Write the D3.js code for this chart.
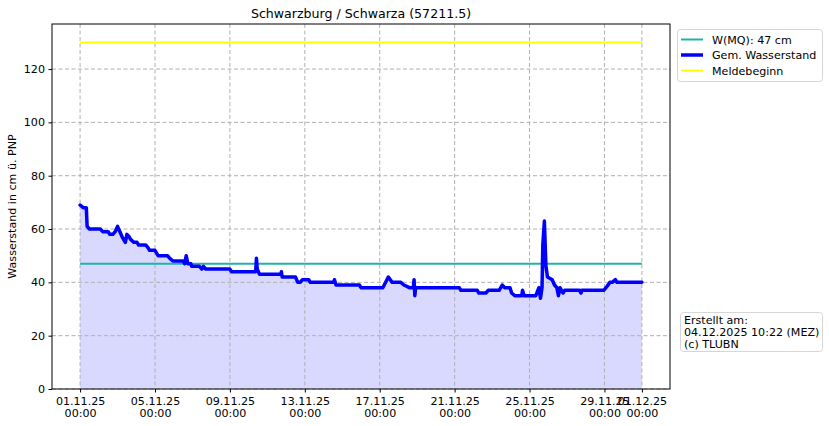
<!DOCTYPE html>
<html>
<head>
<meta charset="utf-8">
<script src="https://cdn.jsdelivr.net/npm/d3@7"></script>
<style>
    body { margin: 0; background: #fff; }
    text { font-family: 'DejaVu Sans', sans-serif; }
</style>
</head>
<body>
<div id="chart"></div>
<script>
//Messwerte: Stunden seit 01.11.25 00:00 und Wasserstand in cm
var hours = [0, 4, 8, 9, 12, 26, 29, 36, 38, 42, 45, 48, 51, 54, 58, 60, 63, 65, 69, 73,
    75, 84, 87, 89, 96, 98, 100, 112, 115, 119, 132, 134, 136, 138, 142, 143, 153, 156, 158, 161,
    192, 194, 225, 226, 227, 230, 257, 258, 259, 276, 279, 282, 285, 293, 295, 325, 326, 328, 358, 360,
    388, 395, 400, 411, 415, 422, 427, 428, 429, 430, 486, 488, 509, 511, 520, 523, 537, 541, 544, 551,
    553, 557, 566, 567, 569, 584, 588, 590, 592, 593, 595, 597, 599, 605, 608, 611, 613, 615, 619, 621,
    640, 642, 643, 671, 674, 679, 682, 686, 688, 720];
var level = [69, 68, 68, 61, 60, 60, 59, 59, 58, 58, 59, 61, 59, 57, 55, 58, 57, 56, 55, 55,
    54, 54, 53, 52, 52, 51, 50, 50, 49, 48, 48, 47, 50, 47, 47, 46, 46, 45, 46, 45,
    45, 44, 44, 49, 45, 43, 43, 44, 42, 42, 40, 40, 41, 41, 40, 40, 41, 39, 39, 38,
    38, 42, 40, 40, 39, 38, 38, 41, 35, 38, 38, 37, 37, 36, 36, 37, 37, 39, 38, 38,
    36, 35, 35, 37, 35, 35, 38, 34, 38, 54, 63, 46, 42, 41, 39, 38, 35, 38, 36, 37,
    37, 36, 37, 37, 38, 40, 40, 41, 40, 40];

var mqValue = 47;
var meldeValue = 130;

var yTicks = [0, 20, 40, 60, 80, 100, 120];
var xTickDays = ['2025-11-01', '2025-11-05', '2025-11-09', '2025-11-13', '2025-11-17',
    '2025-11-21', '2025-11-25', '2025-11-29', '2025-12-01'];

var legendLabels = ['W(MQ): 47 cm', 'Gem. Wasserstand', 'Meldebeginn'];
var infoLines = ['Erstellt am:', '04.12.2025 10:22 (MEZ)', '(c) TLUBN'];

var start = Date.UTC(2025, 10, 1);
var hourMs = 3600 * 1000;
var series = hours.map(function(h, i){
    return {t: new Date(start + h * hourMs), v: level[i]};
});
var tStart = series[0].t;
var tEnd = series[series.length - 1].t;

var fs = '11.1px';

var width = 829, height = 426;
var margin = {top: 24, right: 159, bottom: 37, left: 52};
var plotW = width - margin.left - margin.right,
    plotH = height - margin.top - margin.bottom;

var svg = d3.select('#chart')
    .append('svg')
    .attr('width', width)
    .attr('height', height);

var g = svg.append('g')
    .attr('transform', 'translate(' + margin.left + ',' + margin.top + ')');

//Skalen (5% Rand links und rechts wie bei matplotlib)
var pad = (tEnd - tStart) * 0.05;
var x = d3.scaleUtc()
    .domain([new Date(+tStart - pad), new Date(+tEnd + pad)])
    .range([0, plotW]);

var y = d3.scaleLinear()
    .domain([0, 136.9])
    .range([plotH, 0]);

//Flaeche unter dem Wasserstand
var area = d3.area()
    .x(function(d){ return x(d.t); })
    .y0(y(0))
    .y1(function(d){ return y(d.v); });

g.append('path')
    .datum(series)
    .attr('d', area)
    .style('fill', '#0000ff')
    .style('fill-opacity', 0.15);

//Gitter
var xTickDates = xTickDays.map(function(s){ return new Date(s + 'T00:00:00Z'); });

g.selectAll('.vgrid')
    .data(xTickDates)
    .enter()
    .append('line')
    .attr('class', 'vgrid')
    .attr('x1', function(d){ return x(d); })
    .attr('x2', function(d){ return x(d); })
    .attr('y1', 0)
    .attr('y2', plotH)
    .style('stroke', '#b0b0b0')
    .style('stroke-width', 1)
    .style('stroke-dasharray', '4,2.5');

g.selectAll('.hgrid')
    .data(yTicks)
    .enter()
    .append('line')
    .attr('class', 'hgrid')
    .attr('x1', 0)
    .attr('x2', plotW)
    .attr('y1', function(d){ return y(d); })
    .attr('y2', function(d){ return y(d); })
    .style('stroke', '#b0b0b0')
    .style('stroke-width', 1)
    .style('stroke-dasharray', '4,2.5');

//Horizontale Linien W(MQ) und Meldebeginn
g.append('line')
    .attr('x1', x(tStart))
    .attr('x2', x(tEnd))
    .attr('y1', y(mqValue))
    .attr('y2', y(mqValue))
    .style('stroke', '#20b2aa')
    .style('stroke-width', 2);

var line = d3.line()
    .x(function(d){ return x(d.t); })
    .y(function(d){ return y(d.v); });

g.append('path')
    .datum(series)
    .attr('d', line)
    .style('fill', 'none')
    .style('stroke', '#0000ff')
    .style('stroke-width', 3.5)
    .style('stroke-linejoin', 'round')
    .style('stroke-linecap', 'round');

g.append('line')
    .attr('x1', x(tStart))
    .attr('x2', x(tEnd))
    .attr('y1', y(meldeValue))
    .attr('y2', y(meldeValue))
    .style('stroke', '#ffff00')
    .style('stroke-width', 2);

//Achsen
var fmtDay = d3.utcFormat('%d.%m.%y');
var fmtTime = d3.utcFormat('%H:%M');

var xAxis = g.append('g')
    .attr('transform', 'translate(0,' + plotH + ')')
    .call(d3.axisBottom(x).tickValues(xTickDates).tickSize(3.5).tickFormat(''));
xAxis.select('.domain').remove();
xAxis.selectAll('.tick').each(function(d){
    var t = d3.select(this).append('text')
        .attr('fill', '#000')
        .style('font-size', fs)
        .attr('text-anchor', 'middle');
    t.append('tspan').attr('x', 0).attr('y', 15.5).text(fmtDay(d));
    t.append('tspan').attr('x', 0).attr('y', 27.5).text(fmtTime(d));
});

var yAxis = g.append('g')
    .call(d3.axisLeft(y).tickValues(yTicks).tickSize(3.5).tickPadding(3.5));
yAxis.select('.domain').remove();
yAxis.selectAll('text')
    .style('font-size', fs)
    .style('font-family', "'DejaVu Sans', sans-serif");

//Rahmen
g.append('rect')
    .attr('x', 0)
    .attr('y', 0)
    .attr('width', plotW)
    .attr('height', plotH)
    .style('fill', 'none')
    .style('stroke', '#000')
    .style('stroke-width', 1);

//Titel und Achsenbeschriftung
svg.append('text')
    .attr('x', margin.left + plotW / 2)
    .attr('y', 18)
    .attr('text-anchor', 'middle')
    .style('font-size', '12.6px')
    .text('Schwarzburg / Schwarza (57211.5)');

svg.append('text')
    .attr('transform', 'translate(16,' + (margin.top + plotH / 2) + ') rotate(-90)')
    .attr('text-anchor', 'middle')
    .style('font-size', fs)
    .text('Wasserstand in cm ü. PNP');

//Legende
var legX = 677, legY = 29;
var legendColors = ['#20b2aa', '#0000ff', '#ffff00'];
var legendWidths = [2, 3.5, 2];

svg.append('rect')
    .attr('x', legX + 0.5)
    .attr('y', legY + 0.5)
    .attr('width', 145)
    .attr('height', 52)
    .attr('rx', 3)
    .style('fill', '#fff')
    .style('stroke', '#d6d6d6');

legendLabels.forEach(function(lbl, i){
    var ly = legY + 10.5 + i * 15.5;
    svg.append('line')
        .attr('x1', legX + 4)
        .attr('x2', legX + 26)
        .attr('y1', ly)
        .attr('y2', ly)
        .style('stroke', legendColors[i])
        .style('stroke-width', legendWidths[i]);
    svg.append('text')
        .attr('x', legX + 35)
        .attr('y', ly + 4)
        .style('font-size', fs)
        .text(lbl);
});

//Info-Box
var infoX = 680, infoY = 312;
svg.append('rect')
    .attr('x', infoX + 0.5)
    .attr('y', infoY + 0.5)
    .attr('width', 142)
    .attr('height', 39)
    .attr('rx', 3)
    .style('fill', '#fff')
    .style('stroke', '#d6d6d6');

infoLines.forEach(function(txt, i){
    svg.append('text')
        .attr('x', infoX + 4)
        .attr('y', infoY + 12 + i * 12)
        .style('font-size', fs)
        .text(txt);
});
</script>
</body>
</html>
